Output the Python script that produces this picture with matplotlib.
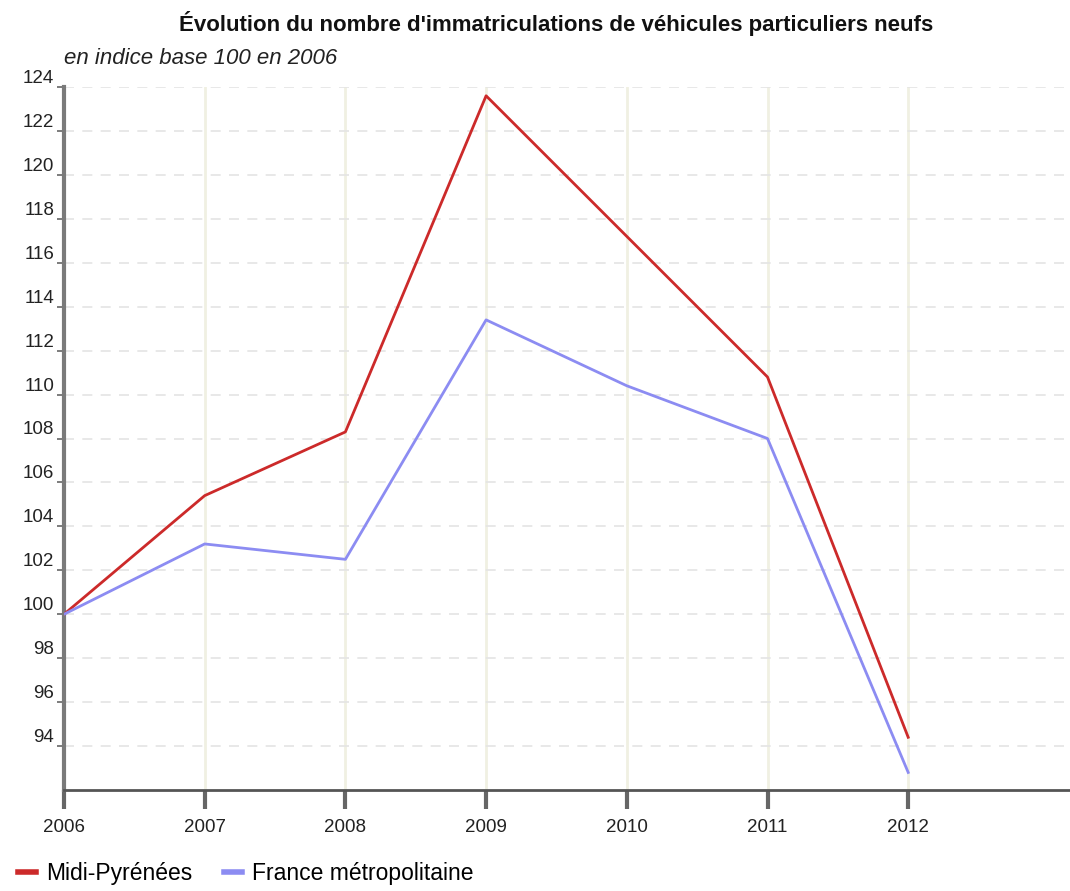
import matplotlib
matplotlib.use("Agg")
import matplotlib.pyplot as plt

years = [2006, 2007, 2008, 2009, 2010, 2011, 2012]
midi_pyrenees = [100.0, 105.4, 108.3, 123.6, 117.2, 110.8, 94.4]
france_metro = [100.0, 103.2, 102.5, 113.4, 110.4, 108.0, 92.8]
y_ticks = list(range(94, 125, 2))

plt.rcParams['font.family'] = ['Liberation Sans', 'DejaVu Sans']

fig = plt.figure(figsize=(10.70, 8.91), dpi=100)
ax = fig.add_axes([64 / 1070, 1 - 790 / 891, (1070 - 64) / 1070, (790 - 87) / 891])

ax.plot(years, midi_pyrenees, color='#cc2a2a', lw=2.0, zorder=3)
ax.plot(years, france_metro, color='#8c8cf2', lw=2.0, zorder=3)

ax.set_xlim(2006, 2006 + (1070 - 64) / 140.7)
ax.set_ylim(92, 124)
ax.set_xticks(years)
ax.set_yticks(y_ticks)

# grid: solid beige verticals, dashed grey horizontals
for x in years[1:]:
    ax.axvline(x, color='#f0f0e2', lw=2, zorder=1)
for y in y_ticks:
    ax.axhline(y, color='#e4e4e4', lw=1.2, ls=(0, (6, 5)), zorder=1)

for s in ['top', 'right']:
    ax.spines[s].set_visible(False)
ax.spines['left'].set_color('#7a7a7a')
ax.spines['left'].set_linewidth(3)
ax.spines['bottom'].set_color('#555555')
ax.spines['bottom'].set_linewidth(2)

ax.tick_params(axis='x', length=14, width=3, color='#666666', labelsize=13.5,
               pad=7, labelcolor='#222222')
ax.tick_params(axis='y', length=5, width=1.2, color='#666666', labelsize=13.5,
               pad=2, labelcolor='#222222')
for lab in ax.get_yticklabels():
    lab.set_verticalalignment('bottom')

fig.text(556 / 1070, 1 - 24 / 891, "Évolution du nombre d'immatriculations de véhicules particuliers neufs",
         ha='center', va='center', fontsize=16, fontweight='bold', color='#111111')
fig.text(64 / 1070, 1 - 59 / 891, "en indice base 100 en 2006",
         ha='left', va='center', fontsize=16, style='italic', color='#222222')

leg = fig.legend(['Midi-Pyrénées', 'France métropolitaine'], loc='lower left',
                 bbox_to_anchor=(-0.002, -0.016), ncol=2, frameon=False, fontsize=16.5,
                 handlelength=0.75, handletextpad=0.45, columnspacing=1.4)
for h in leg.get_lines():
    h.set_linewidth(4)

fig.savefig('out.png', dpi=100)
